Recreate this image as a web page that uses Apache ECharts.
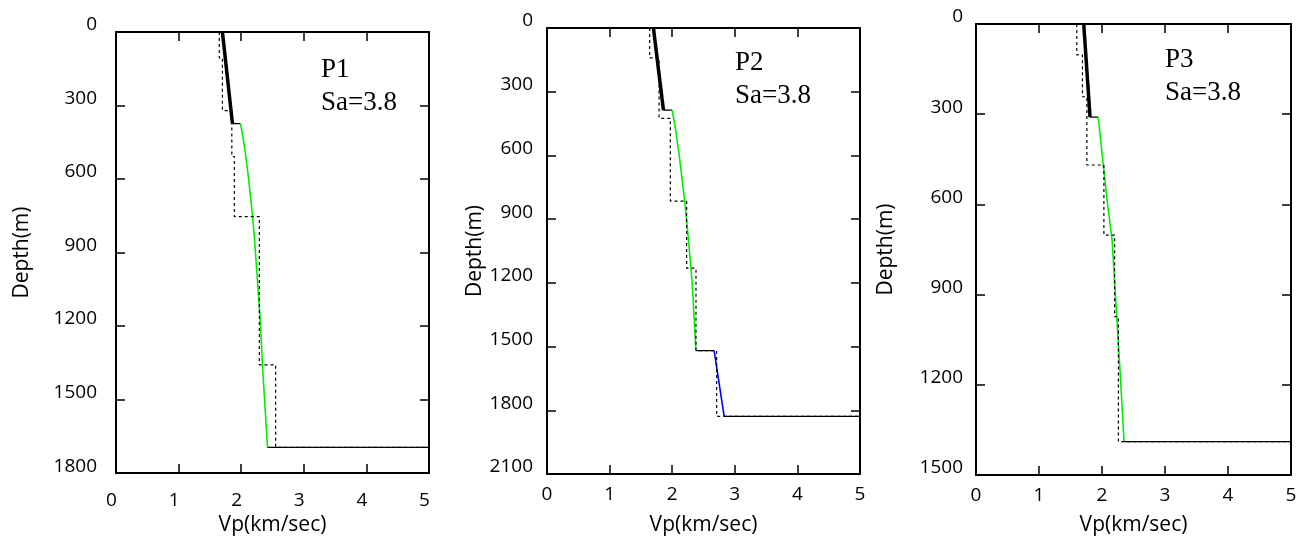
<!DOCTYPE html>
<html><head><meta charset="utf-8">
<script src="https://cdn.jsdelivr.net/npm/echarts@6/dist/echarts.min.js"></script>
<style>html,body{margin:0;padding:0;background:#fff}#c{width:1306px;height:541px}</style>
</head><body><div id="c"></div>
<script>
// x ticks and y ticks
const xTicks = [0, 1, 2, 3, 4, 5];
const panelNames = ['P1', 'P2', 'P3'];
const saLabel = 'Sa=3.8';
const depthMax = [1800, 2100, 1500];

// Panel P1 [Vp km/s, depth m]
const p1Thick = [[1.70, 0], [1.86, 374]];
const p1Link = [[1.86, 374], [1.99, 374]];
const p1Green = [[1.99, 374], [2.06, 480], [2.12, 603], [2.18, 750], [2.21, 838], [2.27, 1050], [2.31, 1200], [2.34, 1361], [2.42, 1695]];
const p1Bottom = [[2.42, 1695], [5, 1695]];
const p1Dashed = [[1.65, 0], [1.65, 106], [1.70, 106], [1.70, 321], [1.85, 321], [1.85, 508], [1.89, 508], [1.89, 753], [2.29, 753], [2.29, 1358], [2.55, 1358], [2.55, 1695], [5, 1695]];

// Panel P2
const p2Thick = [[1.70, 0], [1.86, 387]];
const p2Link = [[1.86, 387], [2.00, 387]];
const p2Green = [[2.00, 387], [2.06, 490], [2.11, 595], [2.20, 815], [2.26, 998], [2.32, 1202], [2.38, 1519]];
const p2Link2 = [[2.38, 1519], [2.67, 1519]];
const p2Blue = [[2.67, 1519], [2.83, 1829]];
const p2Bottom = [[2.83, 1829], [5, 1829]];
const p2Dashed = [[1.64, 0], [1.64, 141], [1.79, 141], [1.79, 426], [1.97, 426], [1.97, 815], [2.23, 815], [2.23, 1131], [2.38, 1131], [2.38, 1519], [2.71, 1519], [2.71, 1829], [5, 1829]];

// Panel P3
const p3Thick = [[1.71, 0], [1.81, 310]];
const p3Link = [[1.81, 310], [1.94, 310]];
const p3Green = [[1.94, 310], [2.02, 469], [2.09, 602], [2.16, 718], [2.23, 960], [2.30, 1203], [2.35, 1389]];
const p3Bottom = [[2.35, 1389], [5, 1389]];
const p3Dashed = [[1.60, 0], [1.60, 103], [1.69, 103], [1.69, 242], [1.76, 242], [1.76, 469], [2.03, 469], [2.03, 702], [2.20, 702], [2.20, 973], [2.26, 973], [2.26, 1389], [5, 1389]];

const grids = [
  {left: 116, top: 32, width: 313, height: 447},
  {left: 547, top: 28, width: 313, height: 446},
  {left: 976, top: 24, width: 315, height: 451}
];
const labelFont = 'Open Sans';
const xLabelMargin = [18, 11, 11];
const xLabelShift = [[0, 9, 0, 0], [0, 0, 0, 0], [0, 0, 0, 0]];
const xNameGap = [35, 41, 40];
const yLabelMargin = [19, 14, 13];
const yNameGap = [83, 56, 79];

const axisLineStyle = {color: '#000', width: 2};
const tickStyle = {show: true, inside: true, length: 9, lineStyle: {color: '#000', width: 1.5}};
const plain = v => String(v);
const xAxes = [], yAxes = [];
grids.forEach((g, i) => {
  xAxes.push({
    gridIndex: i, type: 'value', min: 0, max: 5, interval: 1, position: 'bottom',
    name: 'Vp(km/sec)', nameLocation: 'middle', nameGap: xNameGap[i],
    nameTextStyle: {fontFamily: labelFont, fontSize: 21, color: '#000'},
    axisLine: {show: true, onZero: false, lineStyle: axisLineStyle},
    axisTick: tickStyle,
    axisLabel: {margin: xLabelMargin[i], fontFamily: labelFont, fontSize: 19, color: '#000', padding: xLabelShift[i], formatter: plain},
    splitLine: {show: false}
  });
  xAxes.push({
    gridIndex: i, type: 'value', min: 0, max: 5, interval: 1, position: 'top',
    axisLine: {show: true, onZero: false, lineStyle: axisLineStyle},
    axisTick: tickStyle,
    axisLabel: {show: false}, splitLine: {show: false}
  });
  yAxes.push({
    gridIndex: i, type: 'value', min: 0, max: depthMax[i], interval: 300, inverse: true, position: 'left',
    name: 'Depth(m)', nameLocation: 'middle', nameGap: yNameGap[i], nameRotate: 90,
    nameTextStyle: {fontFamily: labelFont, fontSize: 21, color: '#000'},
    axisLine: {show: true, onZero: false, lineStyle: axisLineStyle},
    axisTick: tickStyle,
    axisLabel: {margin: yLabelMargin[i], fontFamily: labelFont, fontSize: 19, color: '#000',
      verticalAlign: 'bottom', lineHeight: 14, formatter: plain},
    splitLine: {show: false}
  });
  yAxes.push({
    gridIndex: i, type: 'value', min: 0, max: depthMax[i], interval: 300, inverse: true, position: 'right',
    axisLine: {show: true, onZero: false, lineStyle: axisLineStyle},
    axisTick: tickStyle,
    axisLabel: {show: false}, splitLine: {show: false}
  });
});

function ln(panel, data, color, width, type) {
  return {
    type: 'line', xAxisIndex: panel * 2, yAxisIndex: panel * 2, data: data,
    showSymbol: false, symbol: 'none', silent: true, animation: false,
    lineStyle: {color: color, width: width, type: type || 'solid'}, z: type ? 3 : 2
  };
}
const series = [
  ln(0, p1Dashed, '#000', 1.2, [3, 3]),
  ln(0, p1Thick, '#000', 3.5),
  ln(0, p1Link, '#000', 1.2),
  ln(0, p1Green, '#00ee00', 1.6),
  ln(0, p1Bottom, '#000', 1.2),
  ln(1, p2Dashed, '#000', 1.2, [3, 3]),
  ln(1, p2Thick, '#000', 3.5),
  ln(1, p2Link, '#000', 1.2),
  ln(1, p2Green, '#00ee00', 1.6),
  ln(1, p2Link2, '#000', 1.2),
  ln(1, p2Blue, '#0000ff', 1.6),
  ln(1, p2Bottom, '#000', 1.2),
  ln(2, p3Dashed, '#000', 1.2, [3, 3]),
  ln(2, p3Thick, '#000', 3.5),
  ln(2, p3Link, '#000', 1.2),
  ln(2, p3Green, '#00ee00', 1.6),
  ln(2, p3Bottom, '#000', 1.2)
];

const textPos = [[321, 53], [735, 46], [1165, 43]];
const graphic = [];
panelNames.forEach((n, i) => {
  graphic.push({type: 'text', left: textPos[i][0], top: textPos[i][1],
    style: {text: n + '\n' + saLabel, font: '27px "Liberation Serif"', fill: '#000', lineHeight: 33}});
});

const chart = echarts.init(document.getElementById('c'), null, {renderer: 'canvas'});
chart.setOption({
  animation: false,
  backgroundColor: '#fff',
  grid: grids,
  xAxis: xAxes,
  yAxis: yAxes,
  series: series,
  graphic: graphic
});
</script>
</body></html>
